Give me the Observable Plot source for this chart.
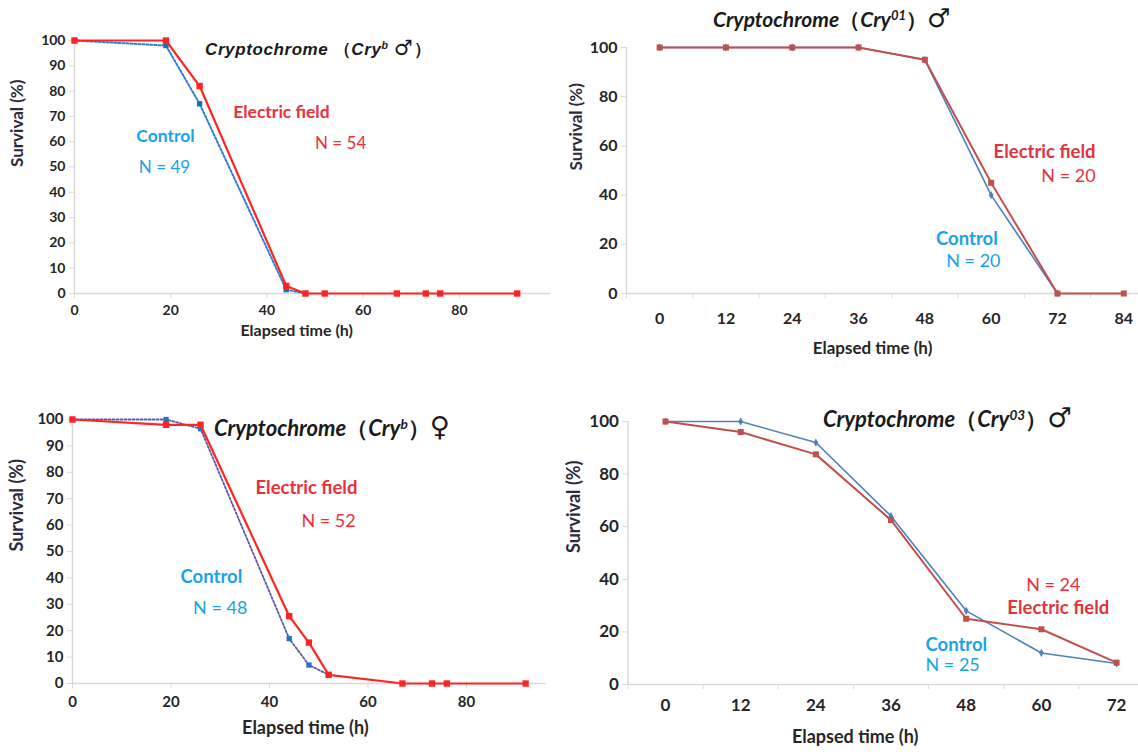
<!DOCTYPE html>
<html><head><meta charset="utf-8">
<script src="https://cdn.jsdelivr.net/npm/d3@7"></script>
<script src="https://cdn.jsdelivr.net/npm/@observablehq/plot@0.6"></script>
<style>
body{margin:0;background:#fff;}
#wrap{position:relative;width:1138px;height:756px;overflow:hidden;font-family:Lato,"Open Sans",sans-serif;background:#fff;}
.panel{position:absolute;}
.title{position:absolute;white-space:nowrap;font-weight:bold;font-style:italic;color:#1a1a1a;line-height:1;}
.title sup{font-size:0.62em;vertical-align:0.55em;}
.title .up{font-style:normal;}
.title .sym{font-style:normal;font-family:"DejaVu Sans",sans-serif;font-weight:bold;font-size:1.25em;line-height:1;}
</style></head><body><div id="wrap"></div>
<script>
// ---------- DATA ----------
// Panel A: Cryptochrome (Cry^b) male
const aHoursEF = [0, 19, 26, 44, 48, 52, 67, 73, 76, 92];
const aSurvEF  = [100, 100, 82, 3, 0, 0, 0, 0, 0, 0];
const aHoursC  = [0, 19, 26, 44, 48];
const aSurvC   = [100, 98, 75, 1.5, 0];
// Panel B: Cryptochrome (Cry01) male
const bHoursEF = [0, 12, 24, 36, 48, 60, 72, 84];
const bSurvEF  = [100, 100, 100, 100, 95, 45, 0, 0];
const bHoursC  = [0, 12, 24, 36, 48, 60, 72];
const bSurvC   = [100, 100, 100, 100, 95, 40, 0];
// Panel C: Cryptochrome (Cry^b) female
const cHoursEF = [0, 19, 26, 44, 48, 52, 67, 73, 76, 92];
const cSurvEF  = [100, 98, 98, 25.5, 15.5, 3.3, 0, 0, 0, 0];
const cHoursC  = [0, 19, 26, 44, 48, 52];
const cSurvC   = [100, 100, 96.5, 17, 7, 3.3];
// Panel D: Cryptochrome (Cry03) male
const dHours   = [0, 12, 24, 36, 48, 60, 72];
const dSurvEF  = [100, 96, 87.5, 62.5, 25, 21, 8.3];
const dSurvC   = [100, 100, 92, 64, 28, 12, 8];

const ticksY10 = [0, 10, 20, 30, 40, 50, 60, 70, 80, 90, 100];
const ticksY20 = [0, 20, 40, 60, 80, 100];
const ticksX20 = [0, 20, 40, 60, 80];
const labelsB  = [0, 12, 24, 36, 48, 60, 72, 84];
const marksB   = [-6, 6, 18, 30, 42, 54, 66, 78];
const labelsD  = [0, 12, 24, 36, 48, 60, 72];
const marksD   = [-6, 6, 18, 30, 42, 54, 66];

const txtEF = "Electric field", txtC = "Control";
const nA = ["N = 54", "N = 49"], nB = ["N = 20", "N = 20"], nC = ["N = 52", "N = 48"], nD = ["N = 24", "N = 25"];
const xTitle = "Elapsed time (h)", yTitle = "Survival (%)";

const rows = (xs, ys) => xs.map((t, i) => ({t, s: ys[i]}));

// ---------- DRAW ----------
const wrap = document.getElementById("wrap");
const AX = "#d9d9d9", TXT = "#262626", YT = "#2d2a3e";

function panel(cfg) {
  const marks = [
    Plot.ruleY([0], {stroke: AX, strokeWidth: 1.5}),
    Plot.ruleX([cfg.xDomain[0]], {stroke: AX, strokeWidth: 1.5, y1: 0, y2: 100}),
    Plot.axisY({ticks: cfg.yTicks, tickSize: 5, tickPadding: 4, stroke: AX, fill: TXT, fontWeight: "bold", fontSize: cfg.tickFont, label: null}),
  ];
  if (cfg.xMarks) {
    marks.push(Plot.axisX({ticks: cfg.xMarks, tickSize: 5, tickFormat: () => "", stroke: AX, label: null}));
    marks.push(Plot.axisX({ticks: cfg.xLabels, tickSize: 0, tickPadding: cfg.xPad, fill: TXT, fontWeight: "bold", fontSize: cfg.tickFont, label: null}));
  } else {
    marks.push(Plot.axisX({ticks: cfg.xLabels, tickSize: 5, tickPadding: cfg.xPad, stroke: AX, fill: TXT, fontWeight: "bold", fontSize: cfg.tickFont, label: null}));
  }
  marks.push(Plot.text([xTitle], {frameAnchor: "bottom", dx: cfg.xtDx, dy: cfg.xtDy, fontWeight: "bold", fontSize: cfg.titleFont, fill: TXT}));
  marks.push(Plot.text([yTitle], {frameAnchor: "left", rotate: -90, dx: cfg.ytDx, dy: cfg.ytDy, fontWeight: "bold", fontSize: cfg.yTitleFont || cfg.titleFont, fill: YT}));
  for (const s of cfg.series) {
    const data = rows(s.x, s.y);
    marks.push(Plot.line(data, {x: "t", y: "s", stroke: s.stroke, strokeWidth: s.sw, strokeDasharray: s.dash, curve: "linear"}));
    marks.push(Plot.dot(data, {x: "t", y: "s", symbol: s.symbol, r: s.r, fill: s.fill, stroke: "none"}));
  }
  for (const a of cfg.notes) {
    marks.push(Plot.text([a.text], {x: a.x, y: a.y, fill: a.color, fontWeight: a.bold ? "bold" : "normal", fontSize: a.size, textAnchor: a.anchor || "middle"}));
  }
  const svg = Plot.plot({
    width: cfg.width, height: cfg.height,
    marginLeft: cfg.ml, marginRight: cfg.mr, marginTop: cfg.mt, marginBottom: cfg.mb,
    x: {domain: cfg.xDomain},
    y: {domain: [0, 100]},
    style: {fontFamily: "Lato, 'Open Sans', sans-serif", background: "transparent", overflow: "visible", color: TXT},
    marks
  });
  svg.classList.add("panel");
  svg.style.left = cfg.left + "px";
  svg.style.top = cfg.top + "px";
  wrap.appendChild(svg);
}

const RED = "#ff2424", REDT = "#ec2f3a", BLUET = "#1aa3e8";
const RED2 = "#c0504d", BLUE2 = "#4f81bd", REDT2 = "#e0343f";

// Panel A
panel({
  left: 0, top: 0, width: 560, height: 345, ml: 74, mr: 9.6, mt: 40, mb: 52,
  xDomain: [0, 99], yTicks: ticksY10, xLabels: ticksX20, xPad: 7, tickFont: 14, titleFont: 16, yTitleFont: 17,
  xtDx: -16, xtDy: 42, ytDx: -57, ytDy: 0,
  series: [
    {x: aHoursC, y: aSurvC, stroke: "#2f7fd0", sw: 2, dash: "2,2", symbol: "square", r: 3, fill: "#1f6fb5"},
    {x: aHoursEF, y: aSurvEF, stroke: RED, sw: 2.2, symbol: "square", r: 3.6, fill: RED}
  ],
  notes: [
    {text: txtEF, x: 43, y: 71.5, color: REDT, bold: true, size: 17.5},
    {text: nA[0], x: 55.3, y: 59.3, color: REDT, size: 17},
    {text: txtC, x: 18.9, y: 62, color: BLUET, bold: true, size: 17.5},
    {text: nA[1], x: 18.7, y: 49.8, color: BLUET, size: 17}
  ]
});

// Panel B
panel({
  left: 560, top: 0, width: 578, height: 385, ml: 66, mr: 0, mt: 47, mb: 92,
  xDomain: [-6, 86.67], yTicks: ticksY20, xLabels: labelsB, xMarks: marksB, xPad: 19, tickFont: 16, titleFont: 17,
  xtDx: -10, xtDy: 60, ytDx: -50, ytDy: 0,
  series: [
    {x: bHoursC, y: bSurvC, stroke: BLUE2, sw: 1.6, symbol: "diamond", r: 2.5, fill: BLUE2},
    {x: bHoursEF, y: bSurvEF, stroke: RED2, sw: 2, symbol: "square", r: 3.4, fill: RED2}
  ],
  notes: [
    {text: txtEF, x: 78.9, y: 57.3, color: REDT2, bold: true, size: 18.5, anchor: "end"},
    {text: nB[0], x: 78.9, y: 47.6, color: REDT2, size: 18, anchor: "end"},
    {text: txtC, x: 61.2, y: 22, color: BLUET, bold: true, size: 18.5, anchor: "end"},
    {text: nB[1], x: 61.7, y: 13, color: BLUET, size: 18, anchor: "end"}
  ]
});

// Panel C
panel({
  left: 0, top: 395, width: 560, height: 361, ml: 72, mr: 14.2, mt: 24, mb: 73,
  xDomain: [0, 96.2], yTicks: ticksY10, xLabels: ticksX20, xPad: 8, tickFont: 15, titleFont: 18,
  xtDx: -4, xtDy: 50, ytDx: -55, ytDy: 0,
  series: [
    {x: cHoursC, y: cSurvC, stroke: "#5a5aa0", sw: 1.8, dash: "2,2", symbol: "square", r: 3, fill: "#2472c8"},
    {x: cHoursEF, y: cSurvEF, stroke: RED, sw: 2.2, symbol: "square", r: 3.6, fill: RED}
  ],
  notes: [
    {text: txtEF, x: 47.5, y: 74.2, color: REDT, bold: true, size: 18.5},
    {text: nC[0], x: 52, y: 61.4, color: REDT, size: 18},
    {text: txtC, x: 28.2, y: 40.5, color: BLUET, bold: true, size: 18.5},
    {text: nC[1], x: 30, y: 28.4, color: BLUET, size: 18}
  ]
});

// Panel D
panel({
  left: 560, top: 395, width: 578, height: 361, ml: 67.4, mr: 0, mt: 26, mb: 72,
  xDomain: [-6, 75.5], yTicks: ticksY20, xLabels: labelsD, xMarks: marksD, xPad: 14, tickFont: 17, titleFont: 18,
  xtDx: -28, xtDy: 58, ytDx: -54, ytDy: 0,
  series: [
    {x: dHours, y: dSurvC, stroke: BLUE2, sw: 1.6, symbol: "diamond", r: 2.5, fill: BLUE2},
    {x: dHours, y: dSurvEF, stroke: RED2, sw: 2, symbol: "square", r: 3.4, fill: RED2}
  ],
  notes: [
    {text: nD[0], x: 61.9, y: 37.6, color: REDT2, size: 18},
    {text: txtEF, x: 62.7, y: 28.9, color: REDT2, bold: true, size: 18.5},
    {text: txtC, x: 41.5, y: 14.8, color: BLUET, bold: true, size: 18.5, anchor: "start"},
    {text: nD[1], x: 41.5, y: 7.2, color: BLUET, size: 18, anchor: "start"}
  ]
});

// Titles
const titles = [
  {html: 'Cryptochrome <span class="up">（</span>Cry<sup>b</sup> <span class="sym">♂</span><span class="up">）</span>', left: 205, top: 37, size: 17, family: "'Liberation Sans Narrow', 'Liberation Sans', sans-serif", ls: "0.6px"},
  {html: 'Cryptochrome<span class="up">（</span>Cry<sup>01</sup><span class="up">）</span><span class="sym">♂</span>', left: 713, top: 5, size: 21, family: "Lato, 'Open Sans', sans-serif", ls: "0px"},
  {html: 'Cryptochrome<span class="up">（</span>Cry<sup>b</sup><span class="up">）</span><span class="sym">♀</span>', left: 214, top: 413, size: 22, family: "Lato, 'Open Sans', sans-serif", ls: "0px"},
  {html: 'Cryptochrome<span class="up">（</span>Cry<sup>03</sup><span class="up">）</span><span class="sym">♂</span>', left: 823, top: 404, size: 22, family: "Lato, 'Open Sans', sans-serif", ls: "0px"}
];
for (const t of titles) {
  const d = document.createElement("div");
  d.className = "title";
  d.innerHTML = t.html;
  d.style.left = t.left + "px";
  d.style.top = t.top + "px";
  d.style.fontSize = t.size + "px";
  d.style.fontFamily = t.family;
  d.style.letterSpacing = t.ls;
  wrap.appendChild(d);
}
</script></body></html>
